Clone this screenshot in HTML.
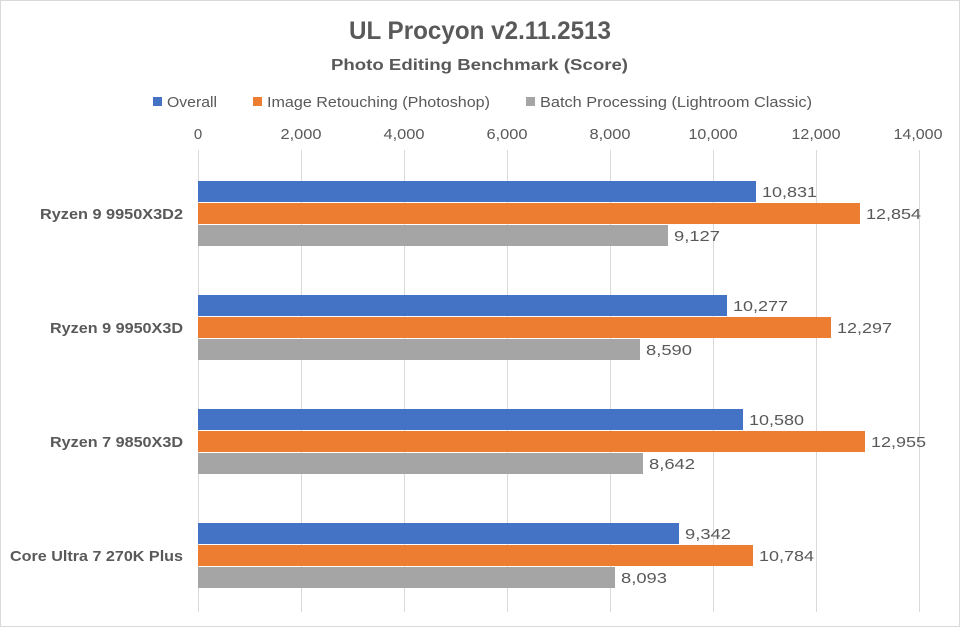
<!DOCTYPE html>
<html><head><meta charset="utf-8"><style>
body{margin:0;background:#fff;}
svg text{font-family:"Liberation Sans","Noto Sans CJK JP",sans-serif;fill:#595959;}
</style></head><body>
<svg width="960" height="627" viewBox="0 0 960 627" xmlns="http://www.w3.org/2000/svg">
<rect x="0.5" y="0.5" width="959" height="626" fill="#fff" stroke="#d9d9d9"/>
<text x="349" y="39" font-size="25" font-weight="bold" textLength="262" lengthAdjust="spacingAndGlyphs">UL Procyon v2.11.2513</text>
<text x="331" y="70" font-size="16" font-weight="bold" textLength="297" lengthAdjust="spacingAndGlyphs">Photo Editing Benchmark (Score)</text>
<g font-size="15">
<rect x="153" y="97" width="9" height="9" fill="#4472c4"/><text x="167" y="107" textLength="50" lengthAdjust="spacingAndGlyphs">Overall</text>
<rect x="253" y="97" width="9" height="9" fill="#ed7d31"/><text x="267" y="107" textLength="223" lengthAdjust="spacingAndGlyphs">Image Retouching (Photoshop)</text>
<rect x="526" y="97" width="9" height="9" fill="#a5a5a5"/><text x="540" y="107" textLength="272" lengthAdjust="spacingAndGlyphs">Batch Processing (Lightroom Classic)</text>
</g>
<g stroke="#d9d9d9" stroke-width="1">
<line x1="198.5" y1="150" x2="198.5" y2="612"/>
<line x1="301.5" y1="150" x2="301.5" y2="612"/>
<line x1="404.5" y1="150" x2="404.5" y2="612"/>
<line x1="507.5" y1="150" x2="507.5" y2="612"/>
<line x1="610.5" y1="150" x2="610.5" y2="612"/>
<line x1="713.5" y1="150" x2="713.5" y2="612"/>
<line x1="816.5" y1="150" x2="816.5" y2="612"/>
<line x1="919.5" y1="150" x2="919.5" y2="612"/>
</g>
<g font-size="15" text-anchor="middle">
<text x="198" y="139">0</text>
<text x="301" y="139" textLength="41" lengthAdjust="spacingAndGlyphs">2,000</text>
<text x="404" y="139" textLength="41" lengthAdjust="spacingAndGlyphs">4,000</text>
<text x="507" y="139" textLength="41" lengthAdjust="spacingAndGlyphs">6,000</text>
<text x="610" y="139" textLength="41" lengthAdjust="spacingAndGlyphs">8,000</text>
<text x="713" y="139" textLength="49" lengthAdjust="spacingAndGlyphs">10,000</text>
<text x="816" y="139" textLength="49" lengthAdjust="spacingAndGlyphs">12,000</text>
<text x="918" y="139" textLength="49" lengthAdjust="spacingAndGlyphs">14,000</text>
</g>
<g font-size="15" font-weight="bold">
<text x="40" y="219" textLength="143" lengthAdjust="spacingAndGlyphs">Ryzen 9 9950X3D2</text>
<text x="50" y="333" textLength="133" lengthAdjust="spacingAndGlyphs">Ryzen 9 9950X3D</text>
<text x="50" y="447" textLength="133" lengthAdjust="spacingAndGlyphs">Ryzen 7 9850X3D</text>
<text x="10" y="561" textLength="173" lengthAdjust="spacingAndGlyphs">Core Ultra 7 270K Plus</text>
</g>
<g>
<rect x="198" y="181" width="558" height="21" fill="#4472c4"/>
<rect x="198" y="203" width="662" height="21" fill="#ed7d31"/>
<rect x="198" y="225" width="470" height="21" fill="#a5a5a5"/>
<rect x="198" y="295" width="529" height="21" fill="#4472c4"/>
<rect x="198" y="317" width="633" height="21" fill="#ed7d31"/>
<rect x="198" y="339" width="442" height="21" fill="#a5a5a5"/>
<rect x="198" y="409" width="545" height="21" fill="#4472c4"/>
<rect x="198" y="431" width="667" height="21" fill="#ed7d31"/>
<rect x="198" y="453" width="445" height="21" fill="#a5a5a5"/>
<rect x="198" y="523" width="481" height="21" fill="#4472c4"/>
<rect x="198" y="545" width="555" height="21" fill="#ed7d31"/>
<rect x="198" y="567" width="417" height="21" fill="#a5a5a5"/>
</g>
<g font-size="15">
<text x="762" y="197" textLength="55" lengthAdjust="spacingAndGlyphs">10,831</text><text x="866" y="219" textLength="55" lengthAdjust="spacingAndGlyphs">12,854</text><text x="674" y="241" textLength="46" lengthAdjust="spacingAndGlyphs">9,127</text>
<text x="733" y="311" textLength="55" lengthAdjust="spacingAndGlyphs">10,277</text><text x="837" y="333" textLength="55" lengthAdjust="spacingAndGlyphs">12,297</text><text x="646" y="355" textLength="46" lengthAdjust="spacingAndGlyphs">8,590</text>
<text x="749" y="425" textLength="55" lengthAdjust="spacingAndGlyphs">10,580</text><text x="871" y="447" textLength="55" lengthAdjust="spacingAndGlyphs">12,955</text><text x="649" y="469" textLength="46" lengthAdjust="spacingAndGlyphs">8,642</text>
<text x="685" y="539" textLength="46" lengthAdjust="spacingAndGlyphs">9,342</text><text x="759" y="561" textLength="55" lengthAdjust="spacingAndGlyphs">10,784</text><text x="621" y="583" textLength="46" lengthAdjust="spacingAndGlyphs">8,093</text>
</g>
</svg>
</body></html>
